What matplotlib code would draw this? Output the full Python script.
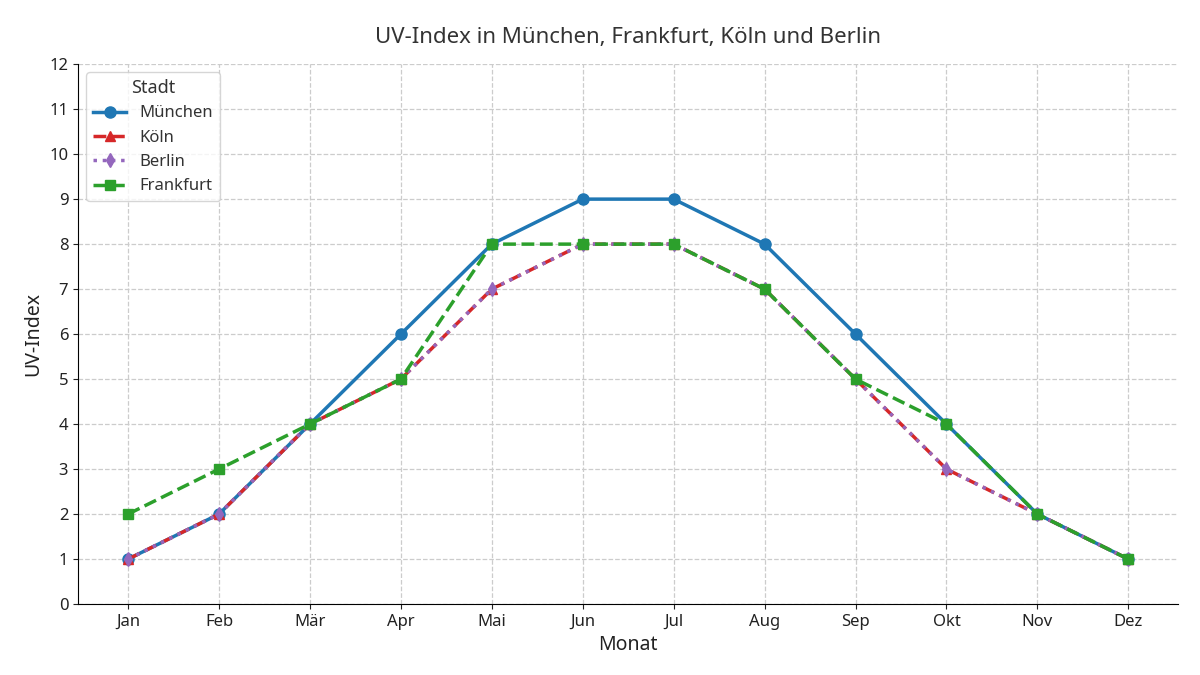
import matplotlib
matplotlib.use("Agg")
import matplotlib.pyplot as plt

plt.rcParams["font.family"] = "Noto Sans"

months = ["Jan","Feb","Mär","Apr","Mai","Jun","Jul","Aug","Sep","Okt","Nov","Dez"]
muenchen = [1,2,4,6,8,9,9,8,6,4,2,1]
koeln = [1,2,4,5,7,8,8,7,5,3,2,1]
berlin = [1,2,4,5,7,8,8,7,5,3,2,1]
frankfurt = [2,3,4,5,8,8,8,7,5,4,2,1]

fig, ax = plt.subplots(figsize=(12, 6.75), dpi=100)
x = range(len(months))
ax.plot(x, muenchen, "-o", color="#1f77b4", lw=2.5, ms=8, label="München")
ax.plot(x, koeln, "--^", color="#d62728", lw=2.5, ms=7, label="Köln")
ax.plot(x, berlin, ":d", color="#9467bd", lw=2.5, ms=7, label="Berlin")
ax.plot(x, frankfurt, "--s", color="#2ca02c", lw=2.5, ms=7, label="Frankfurt")

ax.set_xticks(list(x))
ax.set_xticklabels(months)
ax.set_yticks(range(0, 13))
ax.set_ylim(0, 12)
ax.set_xlim(-0.55, 11.55)
ax.grid(True, ls="--", color="#cccccc", lw=0.9)
for s in ["top", "right"]:
    ax.spines[s].set_visible(False)
ax.tick_params(labelsize=12, colors="#222222")
ax.set_title("UV-Index in München, Frankfurt, Köln und Berlin", fontsize=16, color="#333333", pad=15)
ax.set_xlabel("Monat", fontsize=14, color="#222222")
ax.set_ylabel("UV-Index", fontsize=14, color="#222222")
leg = ax.legend(title="Stadt", loc="upper left", fontsize=12, title_fontsize=13)
plt.setp(leg.get_texts(), color="#333333")
leg.get_title().set_color("#333333")
fig.subplots_adjust(left=0.065, right=0.982, top=0.905, bottom=0.105)
fig.savefig("out.png")
